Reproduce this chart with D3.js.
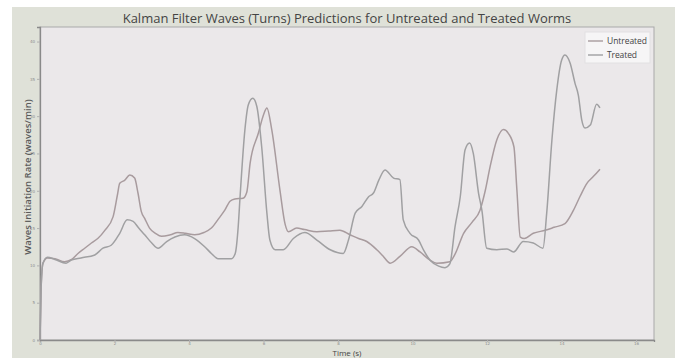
<!DOCTYPE html>
<html>
<head>
<meta charset="utf-8">
<script src="https://cdn.jsdelivr.net/npm/d3@7"></script>
<style>
  body { margin: 0; background: #fff; }
  svg { display: block; }
</style>
</head>
<body>
<div id="chart"></div>
<script>
// time (s) and rate (waves/min)
var untreatedTime = [0, 0.03, 0.08, 0.2, 0.4, 0.66, 0.85, 1.02, 1.2, 1.38, 1.55, 1.74, 1.96, 2.08, 2.14, 2.27, 2.41, 2.54, 2.63, 2.72, 2.81, 2.94, 3.1, 3.26, 3.5, 3.7, 3.9, 4.15, 4.4, 4.6, 4.8, 4.96, 5.1, 5.23, 5.45, 5.55, 5.64, 5.86, 6.0, 6.09, 6.22, 6.44, 6.58, 6.67, 6.89, 7.1, 7.43, 7.75, 8.05, 8.32, 8.55, 8.77, 9.04, 9.2, 9.4, 9.66, 9.98, 10.2, 10.47, 10.65, 11.0, 11.14, 11.37, 11.6, 11.81, 11.95, 12.08, 12.26, 12.44, 12.57, 12.72, 12.8, 12.89, 13.0, 13.24, 13.56, 13.8, 14.09, 14.32, 14.5, 14.68, 14.85, 15.03];
var untreated = [0, 7, 10.3, 11.0, 10.9, 10.5, 10.8, 11.6, 12.3, 13.0, 13.6, 14.7, 16.5, 19.5, 21.0, 21.4, 22.1, 21.7, 19.7, 17.2, 16.3, 15.0, 14.3, 13.9, 14.1, 14.4, 14.3, 14.1, 14.4, 15.0, 16.3, 17.4, 18.6, 18.9, 19.0, 19.8, 23.7, 27.7, 30.2, 31.1, 28.2, 20.1, 15.5, 14.5, 15.0, 14.8, 14.5, 14.6, 14.7, 14.1, 13.6, 13.2, 12.1, 11.3, 10.3, 11.2, 12.5, 11.8, 10.7, 10.3, 10.5, 11.5, 14.3, 15.8, 17.4, 20.0, 23.2, 26.8, 28.2, 27.7, 25.9, 20.1, 13.8, 13.6, 14.3, 14.7, 15.1, 15.6, 17.4, 19.3, 21.0, 21.9, 22.9];

var treatedTime = [0, 0.03, 0.08, 0.2, 0.4, 0.7, 0.84, 1.1, 1.47, 1.69, 1.91, 2.14, 2.34, 2.5, 2.65, 2.81, 3.0, 3.17, 3.4, 3.62, 3.88, 4.15, 4.42, 4.6, 4.78, 5.14, 5.24, 5.32, 5.37, 5.5, 5.59, 5.71, 5.82, 5.95, 6.09, 6.17, 6.31, 6.53, 6.8, 7.11, 7.43, 7.79, 8.14, 8.28, 8.46, 8.64, 8.82, 8.95, 9.1, 9.26, 9.49, 9.66, 9.75, 9.93, 10.16, 10.3, 10.47, 10.7, 10.87, 11.0, 11.14, 11.28, 11.41, 11.53, 11.63, 11.77, 11.86, 11.99, 12.26, 12.53, 12.71, 12.97, 13.24, 13.5, 13.6, 13.74, 13.87, 14.0, 14.09, 14.23, 14.36, 14.45, 14.54, 14.63, 14.77, 14.94, 15.03];
var treated = [0, 7, 10.3, 11.1, 10.8, 10.3, 10.7, 11.0, 11.4, 12.3, 12.7, 14.3, 16.1, 15.9, 15.0, 14.1, 13.0, 12.3, 13.2, 13.8, 14.1, 13.6, 12.5, 11.6, 10.9, 10.9, 11.6, 15.2, 19.2, 28.2, 31.5, 32.4, 31.3, 25.9, 17.0, 13.4, 12.1, 12.1, 13.6, 14.4, 13.4, 12.1, 11.6, 13.4, 17.0, 17.9, 19.2, 19.7, 21.5, 22.8, 21.7, 21.5, 16.1, 14.3, 13.4, 12.0, 10.7, 9.9, 9.7, 10.2, 15.2, 19.2, 25.5, 26.4, 25.0, 19.7, 17.4, 12.3, 12.1, 12.2, 11.8, 13.2, 13.0, 12.3, 17.0, 26.8, 33.5, 37.5, 38.2, 37.1, 34.4, 32.8, 29.5, 28.4, 28.8, 31.6, 31.1];

var xTicks = [0, 2, 4, 6, 8, 10, 12, 14, 16];
var yTicks = [0, 5, 10, 15, 20, 25, 30, 35, 40];
var seriesNames = ["Untreated", "Treated"];

var width = 680, height = 358;
var margin = { top: 27, right: 26, bottom: 18, left: 40 };
var w = width - margin.left - margin.right;
var h = height - margin.top - margin.bottom;

var svg = d3.select("#chart").append("svg")
    .attr("width", width)
    .attr("height", height);

// figure background
svg.append("rect")
    .attr("x", 12).attr("y", 7)
    .attr("width", 663).attr("height", 351)
    .attr("fill", "#dfe1d8");

var g = svg.append("g")
    .attr("transform", "translate(" + margin.left + "," + margin.top + ")");

g.append("rect")
    .attr("width", w).attr("height", h)
    .attr("fill", "#ebe8ea")
    .attr("stroke", "#a9a9a9")
    .attr("stroke-width", 1);

var x = d3.scaleLinear().domain([0, 16.48]).range([0, w]);
var y = d3.scaleLinear().domain([0, 41.95]).range([h, 0]);

var color = d3.scaleOrdinal()
    .domain(seriesNames)
    .range(["#a89b9e", "#a0a0a2"]);

var xAxis = g.append("g")
    .attr("transform", "translate(0," + h + ")")
    .call(d3.axisBottom(x).tickValues(xTicks).tickSize(2).tickPadding(0));
var yAxis = g.append("g")
    .call(d3.axisLeft(y).tickValues(yTicks).tickSize(3).tickPadding(2));

[xAxis, yAxis].forEach(function(ax) {
    ax.select(".domain").attr("stroke", "#8a8a8a").attr("stroke-width", 1.3);
    ax.selectAll(".tick line").attr("stroke", "#b0b0b0");
    ax.selectAll(".tick text")
        .attr("fill", "#8c8c8c")
        .style("font-size", "4px")
        .style("font-family", "DejaVu Sans");
});

var line = d3.line()
    .x(function(d) { return x(d[0]); })
    .y(function(d) { return y(d[1]); })
    .curve(d3.curveMonotoneX);

var series = [
    { name: "Untreated", values: d3.zip(untreatedTime, untreated) },
    { name: "Treated", values: d3.zip(treatedTime, treated) }
];

g.selectAll(".series")
    .data(series)
    .enter().append("path")
    .attr("class", "series")
    .attr("fill", "none")
    .attr("stroke", function(d) { return color(d.name); })
    .attr("stroke-width", 1.5)
    .attr("stroke-linejoin", "round")
    .attr("d", function(d) { return line(d.values); });

// title and axis labels
svg.append("text")
    .attr("x", 347).attr("y", 23)
    .attr("text-anchor", "middle")
    .style("font-family", "Open Sans")
    .style("font-size", "13px")
    .attr("fill", "#444")
    .text("Kalman Filter Waves (Turns) Predictions for Untreated and Treated Worms");

svg.append("text")
    .attr("x", 347).attr("y", 355.5)
    .attr("text-anchor", "middle")
    .style("font-family", "Open Sans")
    .style("font-size", "8px")
    .attr("fill", "#444")
    .text("Time (s)");

svg.append("text")
    .attr("transform", "translate(31,177) rotate(-90)")
    .attr("text-anchor", "middle")
    .style("font-family", "Open Sans")
    .style("font-size", "9.5px")
    .style("font-weight", "600")
    .attr("fill", "#5a5a5a")
    .text("Waves Initiation Rate (waves/min)");

// legend
var legend = svg.append("g").attr("transform", "translate(585,32)");
legend.append("rect")
    .attr("width", 65).attr("height", 31)
    .attr("fill", "#f6f5f6")
    .attr("stroke", "#e2e0e2");
seriesNames.forEach(function(name, i) {
    legend.append("line")
        .attr("x1", 3).attr("x2", 18)
        .attr("y1", 9 + i * 14).attr("y2", 9 + i * 14)
        .attr("stroke", color(name))
        .attr("stroke-width", 1.4);
    legend.append("text")
        .attr("x", 22).attr("y", 12 + i * 14)
        .style("font-family", "Open Sans")
        .style("font-size", "8.5px")
        .attr("fill", "#444")
        .attr("textLength", name === "Untreated" ? 40 : 30)
        .text(name);
});
</script>
</body>
</html>
